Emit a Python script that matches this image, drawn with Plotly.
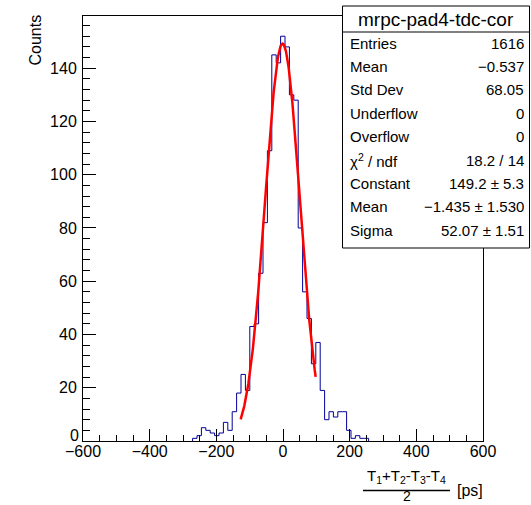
import numpy as np
import plotly.graph_objects as go

# ---------------- data ----------------
hist_name = "mrpc-pad4-tdc-cor"
first_edge = -271.2          # low edge of first filled bin
bin_width = 13.2
counts = [1, 2, 5, 4, 3, 2, 3, 7, 4, 11, 18, 25, 19, 43, 44, 63, 82, 109, 145, 142, 152,
          148, 130, 128, 80, 56, 46, 29, 37, 19, 8, 11, 9, 11, 11, 4, 1, 2, 1, 1]

# Gaussian fit (parameters from the stats box) and fit range
fit_constant = 149.2
fit_mean = -1.435
fit_sigma = 52.07
fit_range = [-127.0, 98.0]

x_range = [-600, 600]
x_major = [-600, -400, -200, 0, 200, 400, 600]
y_major = [0, 20, 40, 60, 80, 100, 120, 140]

stats_labels = ["Entries", "Mean", "Std Dev", "Underflow", "Overflow",
                "χ<sup>2</sup> / ndf", "Constant", "Mean", "Sigma"]
stats_values = ["1616", "\u22120.537", "68.05", "0", "0", "18.2 / 14",
                "149.2 \u00b1 5.3", "\u22121.435 \u00b1 1.530", "52.07 \u00b1 1.51"]

# ---------------- geometry ----------------
W, H = 531, 505
L, R, T, B = 83, 483, 16, 441
FONT = "Liberation Sans, Arial, Helvetica, sans-serif"


def pxx(px):
    return (px - L) / (R - L)


def pyy(py):
    return (B - py) / (B - T)


# histogram outline as steps
edges = [first_edge + i * bin_width for i in range(len(counts) + 1)]
hx = [edges[0]] + edges
hy = [0] + counts + [0]

fx = np.linspace(fit_range[0], fit_range[1], 300)
fy = fit_constant * np.exp(-0.5 * ((fx - fit_mean) / fit_sigma) ** 2)

fig = go.Figure()
fig.add_trace(go.Scatter(x=hx, y=hy, mode="lines", line=dict(color="#000099", width=1, shape="hv"),
                         hoverinfo="skip"))
fig.add_trace(go.Scatter(x=fx, y=fy, mode="lines", line=dict(color="#ff0000", width=2.5),
                         hoverinfo="skip"))

ymax = 1.05 * max(counts)

fig.update_xaxes(range=x_range, tickvals=x_major, ticks="inside", ticklen=12, tickwidth=1,
                 tickcolor="black", showline=True, linecolor="black", linewidth=1, mirror=True,
                 showgrid=False, zeroline=False,
                 minor=dict(dtick=50, tick0=0, ticks="inside", ticklen=6, tickcolor="black"),
                 tickfont=dict(family=FONT, size=16, color="black"), ticklabelstandoff=-4)
fig.update_yaxes(range=[0, ymax], tickvals=y_major[1:], ticks="inside", ticklen=13, tickwidth=1,
                 tickcolor="black", showline=True, linecolor="black", linewidth=1, mirror=True,
                 showgrid=False, zeroline=False,
                 minor=dict(dtick=4, tick0=0, ticks="inside", ticklen=7, tickcolor="black"),
                 tickfont=dict(family=FONT, size=16, color="black"), ticklabelstandoff=2)

annotations = []
shapes = []

# y label "0" (shifted up as in ROOT)
annotations.append(dict(x=pxx(80.5), y=pyy(435.5), xref="paper", yref="paper", text=str(y_major[0]),
                        showarrow=False, xanchor="right", yanchor="middle",
                        font=dict(family=FONT, size=16, color="black")))

# y title
annotations.append(dict(x=pxx(35), y=pyy(40.5), xref="paper", yref="paper", text="Counts",
                        textangle=-90, showarrow=False, xanchor="center", yanchor="middle",
                        font=dict(family=FONT, size=16, color="black")))

# x title: fraction
annotations.append(dict(x=pxx(406.5), y=pyy(488), xref="paper", yref="paper",
                        text="T<sub>1</sub>+T<sub>2</sub>-T<sub>3</sub>-T<sub>4</sub>",
                        showarrow=False, xanchor="center", yanchor="bottom",
                        font=dict(family=FONT, size=15, color="black")))
shapes.append(dict(type="line", xref="paper", yref="paper", x0=pxx(363), x1=pxx(450),
                   y0=pyy(490.5), y1=pyy(490.5), line=dict(color="black", width=1.5)))
annotations.append(dict(x=pxx(407), y=pyy(505), xref="paper", yref="paper", text="2",
                        showarrow=False, xanchor="center", yanchor="bottom", borderpad=0,
                        font=dict(family=FONT, size=14, color="black")))
annotations.append(dict(x=pxx(455), y=pyy(490.5), xref="paper", yref="paper", text="[ps]",
                        showarrow=False, xanchor="left", yanchor="middle",
                        font=dict(family=FONT, size=16, color="black")))

# stats box
bx0, bx1, by0, by1 = 342.5, 529.5, 6, 248
shapes.append(dict(type="rect", xref="paper", yref="paper", x0=pxx(bx0), x1=pxx(bx1),
                   y0=pyy(by1), y1=pyy(by0), fillcolor="white",
                   line=dict(color="black", width=1), layer="above"))
shapes.append(dict(type="line", xref="paper", yref="paper", x0=pxx(bx0), x1=pxx(bx1),
                   y0=pyy(32), y1=pyy(32), line=dict(color="black", width=1), layer="above"))
annotations.append(dict(x=pxx((bx0 + bx1) / 2), y=pyy(19.5), xref="paper", yref="paper",
                        text=hist_name, showarrow=False, xanchor="center", yanchor="middle",
                        font=dict(family=FONT, size=19, color="black")))
for i, (lab, val) in enumerate(zip(stats_labels, stats_values)):
    yc = 43.3 + 23.35 * i
    annotations.append(dict(x=pxx(348), y=pyy(yc), xref="paper", yref="paper", text=lab,
                            showarrow=False, xanchor="left", yanchor="middle",
                            font=dict(family=FONT, size=15, color="black")))
    annotations.append(dict(x=pxx(526), y=pyy(yc), xref="paper", yref="paper", text=val,
                            showarrow=False, xanchor="right", yanchor="middle",
                            font=dict(family=FONT, size=15, color="black")))

fig.update_layout(width=W, height=H, margin=dict(l=L, r=W - R, t=T, b=H - B),
                  plot_bgcolor="white", paper_bgcolor="white", showlegend=False,
                  annotations=annotations, shapes=shapes)

fig.write_html("out.html")
